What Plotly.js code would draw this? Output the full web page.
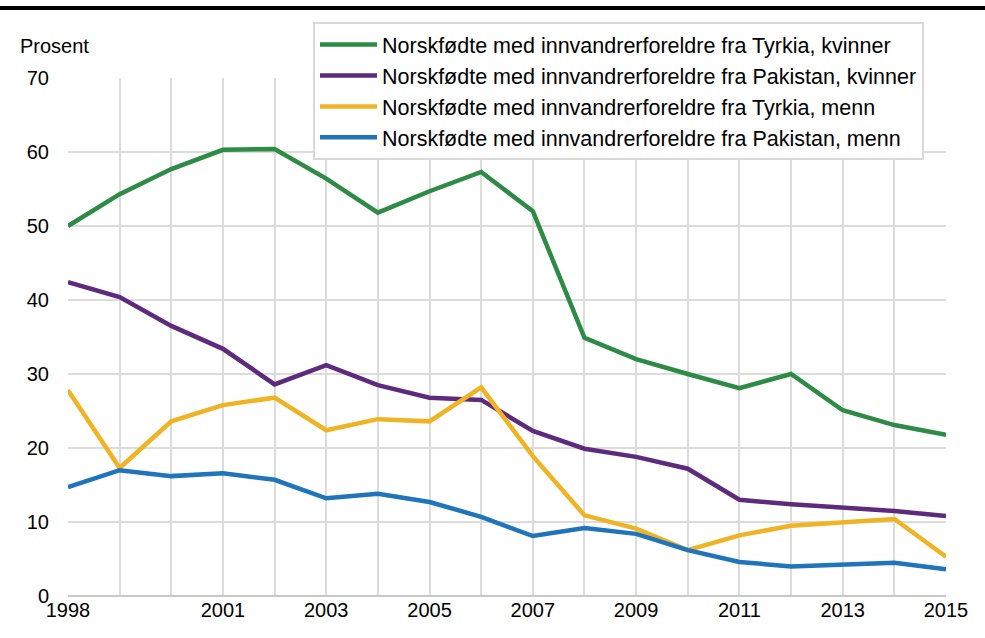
<!DOCTYPE html>
<html>
<head>
<meta charset="utf-8">
<script src="https://cdn.plot.ly/plotly-3.0.1.min.js"></script>
<style>html,body{margin:0;padding:0;background:#fff;}#chart{width:985px;height:638px;}</style>
</head>
<body>
<div id="chart"></div>
<script>
const years = [1998,1999,2000,2001,2002,2003,2004,2005,2006,2007,2008,2009,2010,2011,2012,2013,2014,2015];
const tyrkiaKvinner = [50.0,54.3,57.7,60.3,60.4,56.4,51.8,54.7,57.3,52.0,34.9,32.0,30.0,28.1,30.0,25.1,23.1,21.8];
const pakistanKvinner = [42.4,40.4,36.5,33.4,28.6,31.2,28.5,26.8,26.5,22.3,19.9,18.8,17.2,13.0,12.4,11.9,11.5,10.8];
const tyrkiaMenn = [27.8,17.3,23.6,25.8,26.8,22.4,23.9,23.6,28.2,18.9,10.9,9.1,6.2,8.2,9.5,10.0,10.4,5.3];
const pakistanMenn = [14.7,17.0,16.2,16.6,15.7,13.2,13.8,12.7,10.7,8.1,9.2,8.4,6.2,4.6,4.0,4.2,4.5,3.6];
const seriesNames = [
  "Norskfødte med innvandrerforeldre fra Tyrkia, kvinner",
  "Norskfødte med innvandrerforeldre fra Pakistan, kvinner",
  "Norskfødte med innvandrerforeldre fra Tyrkia, menn",
  "Norskfødte med innvandrerforeldre fra Pakistan, menn"
];
const seriesColors = ["#2e8b45", "#5e2a7e", "#f0b323", "#1f74bc"];
const labeledYears = [1998,2001,2003,2005,2007,2009,2011,2013,2015];
const yTicks = [0,10,20,30,40,50,60,70];

const allSeries = [tyrkiaKvinner, pakistanKvinner, tyrkiaMenn, pakistanMenn];
const traces = allSeries.map((vals, i) => ({
  x: years, y: vals, type: 'scatter', mode: 'lines',
  name: seriesNames[i], legendgroup: 'g' + i,
  line: {color: seriesColors[i], width: 4.5},
  hoverinfo: 'skip'
}));

const fam = '"Liberation Sans", Arial, sans-serif';
const font = {family: fam, size: 20, color: '#000'};
const L = 68, R = 39, T = 78, B = 42, W = 985, H = 638;
const pw = W - L - R, ph = H - T - B;

const layout = {
  width: W, height: H,
  margin: {l: L, r: R, t: T, b: B, pad: 0, autoexpand: false},
  paper_bgcolor: '#fff', plot_bgcolor: '#fff',
  font: font,
  showlegend: true,
  legend: {
    xref: 'paper', yref: 'paper',
    x: (313 - L) / pw, y: (ph + T - 22) / ph, xanchor: 'left', yanchor: 'top',
    bgcolor: '#fff', bordercolor: '#d9d9d9', borderwidth: 2,
    font: {family: fam, size: 21.5, color: '#000'}, tracegroupgap: 0, itemwidth: 57
  },
  xaxis: {
    range: [1998, 2015],
    tickvals: years,
    ticktext: years.map(y => labeledYears.includes(y) ? String(y) : ''),
    tickangle: 0,
    showgrid: true, gridcolor: '#dcdcdc', gridwidth: 2,
    zeroline: false, showline: false, ticks: '',
    tickfont: font, fixedrange: true
  },
  yaxis: {
    range: [0, 70],
    tickvals: yTicks,
    showgrid: true, gridcolor: '#dcdcdc', gridwidth: 2,
    zeroline: true, zerolinecolor: '#c8c8c8', zerolinewidth: 2,
    showline: false, ticks: '', ticklabelstandoff: 18,
    tickfont: font, fixedrange: true
  },
  shapes: [{
    type: 'line', xref: 'paper', yref: 'paper',
    x0: -L / pw, x1: (W - L) / pw,
    y0: (ph + T - 8) / ph, y1: (ph + T - 8) / ph,
    line: {color: '#000', width: 4}
  }],
  annotations: [{
    text: 'Prosent', xref: 'paper', yref: 'paper',
    x: (18 - L) / pw, y: (ph + T - 46) / ph,
    xanchor: 'left', yanchor: 'middle', showarrow: false, font: font
  }]
};

Plotly.newPlot('chart', traces, layout, {displayModeBar: false, staticPlot: true});
</script>
</body>
</html>
